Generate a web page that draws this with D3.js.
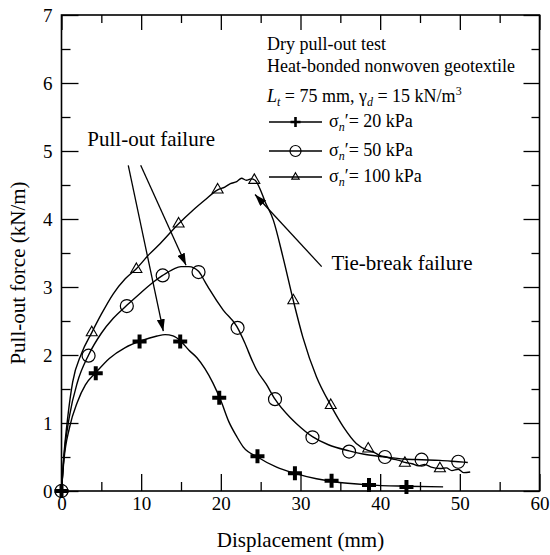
<!DOCTYPE html>
<html><head><meta charset="utf-8">
<script src="https://cdn.jsdelivr.net/npm/d3@7"></script>
<style>
body{margin:0;background:#fff;}
svg text{font-family:"Liberation Serif","Times New Roman",serif !important;fill:#000;}
</style></head>
<body><svg id="c" width="550" height="555" font-family="Liberation Serif"></svg>
<script>
// ---- data ----
const xTicks = [0,10,20,30,40,50,60];
const yTicks = [0,1,2,3,4,5,6,7];
const xMinor = [5,15,25,35,45,55];
const yMinor = [0.5,1.5,2.5,3.5,4.5,5.5,6.5];

const curve20X = [0,0.3,1,2,3,4.3,6,8,10,12,13,14,15,16,17,18,19,20,21,22,22.8,24.6,27,29.3,32,34,38.5,43.3,47.9];
const curve20Y = [0,0.45,0.93,1.31,1.56,1.74,1.95,2.11,2.21,2.28,2.3,2.28,2.2,2.07,1.96,1.8,1.59,1.33,1.02,0.8,0.65,0.5,0.35,0.26,0.18,0.14,0.09,0.07,0.06];
const mark20X = [0,4.3,9.8,14.9,19.8,24.6,29.3,33.9,38.6,43.3];
const mark20Y = [0,1.73,2.2,2.2,1.37,0.51,0.26,0.15,0.09,0.06];

const curve50X = [0,0.3,1,2,3.4,5,6.5,8.2,10,11.5,12.7,14,15,16,17.2,18,18.6,20.3,22,23,24,24.5,25.7,26.8,28.7,29.5,31.5,33.5,36.1,38,40.6,43,45.2,47.5,49.8,51];
const curve50Y = [0,0.5,1.1,1.6,2.0,2.32,2.54,2.73,2.92,3.07,3.17,3.26,3.3,3.3,3.23,3.08,2.96,2.66,2.42,2.18,1.9,1.78,1.57,1.35,1.08,0.99,0.8,0.68,0.59,0.54,0.5,0.47,0.46,0.45,0.43,0.42];
const mark50X = [0,3.4,8.2,12.7,17.2,22.1,26.8,31.5,36.1,40.6,45.2,49.8];
const mark50Y = [0,1.99,2.72,3.17,3.22,2.4,1.35,0.79,0.58,0.5,0.46,0.43];

const curve100X = [0,0.3,0.8,1.4,2.5,3.8,5,6.5,8,9.4,11,12.4,14.7,16.5,18,19.6,20.5,21.2,22,22.6,23.2,23.8,24.3,25,25.5,26.6,27.8,29.1,30.3,32,33.8,35.4,37,38.4,39.2,40,40.8,41.6,42.4,43.1,44,44.8,45.6,46.4,47.5,48.3,49,49.8,50.5,51.3];
const curve100Y = [0,0.52,1.1,1.6,2.02,2.33,2.6,2.9,3.12,3.27,3.48,3.64,3.93,4.13,4.28,4.43,4.47,4.52,4.55,4.6,4.57,4.59,4.57,4.42,4.27,3.98,3.44,2.8,2.26,1.68,1.26,0.94,0.7,0.6,0.57,0.52,0.5,0.47,0.45,0.42,0.4,0.37,0.39,0.35,0.33,0.34,0.3,0.32,0.27,0.28];
const mark100X = [3.8,9.4,14.7,19.6,24.2,29.1,33.8,38.5,43.1,47.5];
const mark100Y = [2.33,3.26,3.93,4.43,4.57,2.8,1.26,0.62,0.41,0.33];

const legendLabels = ["20 kPa","50 kPa","100 kPa"];
const headerLines = ["Dry pull-out test","Heat-bonded nonwoven geotextile"];
// annotation arrows in data units: [x1,y1,x2,y2]
const arrowsData = [[8.38,4.79,12.78,2.35],[9.94,4.79,15.63,3.32],[32.66,3.30,24.29,4.36]];
const annoText = [{t:"Pull-out failure",x:3.24,y:5.07},{t:"Tie-break failure",x:33.9,y:3.25}];

// ---- drawing ----
const FF = '"Liberation Serif","Times New Roman",serif';
const svg = d3.select("#c");
const x = d3.scaleLinear([0,60],[61.5,539.5]);
const y = d3.scaleLinear([0,7],[491,15]);
const L = x(0), R = x(60), T = y(7), B = y(0);

svg.append("defs").append("marker").attr("id","ah").attr("viewBox","0 0 12 8")
  .attr("refX",12).attr("refY",4).attr("markerWidth",12).attr("markerHeight",8)
  .attr("markerUnits","userSpaceOnUse").attr("orient","auto")
  .append("path").attr("d","M0,0L12,4L0,8Z").attr("fill","#000");

function axisStyle(g){
  g.attr("font-family",FF).attr("font-size",19);
  g.select(".domain").remove();
  g.selectAll("line").attr("stroke","#000").attr("stroke-width",1.3);
  g.selectAll("text").attr("fill","#000").style("font-size","19px").style("font-family",FF);
}
const fmt = d3.format("d");

svg.append("g").attr("transform",`translate(0,${B})`).call(d3.axisBottom(x).tickValues(xTicks).tickFormat(fmt).tickSizeInner(-17).tickSizeOuter(0).tickPadding(6)).call(axisStyle);
svg.append("g").attr("transform",`translate(0,${B})`).call(d3.axisBottom(x).tickValues(xMinor).tickSizeInner(-9).tickSizeOuter(0).tickFormat("")).call(axisStyle);
svg.append("g").attr("transform",`translate(0,${T})`).call(d3.axisTop(x).tickValues(xTicks).tickSizeInner(-15).tickSizeOuter(0).tickFormat("")).call(axisStyle);
svg.append("g").attr("transform",`translate(0,${T})`).call(d3.axisTop(x).tickValues(xMinor).tickSizeInner(-8).tickSizeOuter(0).tickFormat("")).call(axisStyle);
svg.append("g").attr("transform",`translate(${L},0)`).call(d3.axisLeft(y).tickValues(yTicks).tickFormat(fmt).tickSizeInner(-17).tickSizeOuter(0).tickPadding(9)).call(axisStyle);
svg.append("g").attr("transform",`translate(${L},0)`).call(d3.axisLeft(y).tickValues(yMinor).tickSizeInner(-9).tickSizeOuter(0).tickFormat("")).call(axisStyle);
svg.append("g").attr("transform",`translate(${R},0)`).call(d3.axisRight(y).tickValues(yTicks).tickSizeInner(-16).tickSizeOuter(0).tickFormat("")).call(axisStyle);
svg.append("g").attr("transform",`translate(${R},0)`).call(d3.axisRight(y).tickValues(yMinor).tickSizeInner(-8).tickSizeOuter(0).tickFormat("")).call(axisStyle);

svg.append("rect").attr("x",L).attr("y",T).attr("width",R-L).attr("height",B-T)
  .attr("fill","none").attr("stroke","#000").attr("stroke-width",1.6);

svg.append("text").attr("x",(L+R)/2).attr("y",547).attr("text-anchor","middle").style("font-size","21px").text("Displacement (mm)");
svg.append("text").attr("transform","translate(25,273) rotate(-90)").attr("text-anchor","middle").style("font-size","21px").text("Pull-out force (kN/m)");

const line = d3.line().x(d=>x(d[0])).y(d=>y(d[1])).curve(d3.curveMonotoneX);
const zip = (a,b)=>a.map((v,i)=>[v,b[i]]);
[[curve20X,curve20Y],[curve50X,curve50Y],[curve100X,curve100Y]].forEach(([cx,cy])=>{
  svg.append("path").attr("d",line(zip(cx,cy))).attr("fill","none").attr("stroke","#000").attr("stroke-width",1.4);
});

function plus(g,px,py,h,w){g.append("path").attr("d",`M${px-h},${py}H${px+h}M${px},${py-h}V${py+h}`).attr("stroke","#000").attr("stroke-width",w).attr("fill","none");}
function circ(g,px,py,r){g.append("circle").attr("cx",px).attr("cy",py).attr("r",r).attr("fill","none").attr("stroke","#000").attr("stroke-width",1.2);}
function tri(g,px,py,s){const h=s*0.866;g.append("path").attr("d",`M${px},${py-2*h/3}L${px+s/2},${py+h/3}L${px-s/2},${py+h/3}Z`).attr("fill","none").attr("stroke","#000").attr("stroke-width",1.1);}

const gm = svg.append("g");
zip(mark20X,mark20Y).forEach(d=>plus(gm,x(d[0]),y(d[1]),7,4));
zip(mark50X,mark50Y).forEach(d=>circ(gm,x(d[0]),y(d[1]),6.5));
zip(mark100X,mark100Y).forEach(d=>tri(gm,x(d[0]),y(d[1]),11));

arrowsData.forEach(a=>{
  svg.append("line").attr("x1",x(a[0])).attr("y1",y(a[1])).attr("x2",x(a[2])).attr("y2",y(a[3]))
    .attr("stroke","#000").attr("stroke-width",1.3).attr("marker-end","url(#ah)");
});
annoText.forEach(a=>{
  svg.append("text").attr("x",x(a.x)).attr("y",y(a.y)).style("font-size","21px").text(a.t);
});

const lx = 267;
headerLines.forEach((t,i)=>{
  svg.append("text").attr("x",lx).attr("y",[50,72][i]).style("font-size","18px").text(t);
});
const h3 = svg.append("text").attr("x",lx).attr("y",102).style("font-size","18px");
h3.append("tspan").style("font-style","italic").text("L");
h3.append("tspan").style("font-style","italic").style("font-size","12px").attr("dy",4).text("t");
h3.append("tspan").attr("dy",-4).text(" = 75 mm, γ");
h3.append("tspan").style("font-style","italic").style("font-size","12px").attr("dy",4).text("d");
h3.append("tspan").attr("dy",-4).text(" = 15 kN/m");
h3.append("tspan").style("font-size","12px").attr("dy",-7).text("3");

const rowY = [122,151,177];
rowY.forEach((ry,i)=>{
  svg.append("line").attr("x1",269).attr("x2",322).attr("y1",ry).attr("y2",ry).attr("stroke","#000").attr("stroke-width",1.4);
  if(i===0) plus(svg,295.5,ry,5,2.6);
  if(i===1) circ(svg,295.5,ry,5.5);
  if(i===2) tri(svg,295.5,ry,7.5);
  const t = svg.append("text").attr("x",329).attr("y",ry+5).style("font-size","18px");
  t.append("tspan").text("σ");
  t.append("tspan").style("font-style","italic").style("font-size","12px").attr("dy",4).text("n");
  t.append("tspan").attr("dy",-4).text("′= "+legendLabels[i]);
});
</script></body></html>
